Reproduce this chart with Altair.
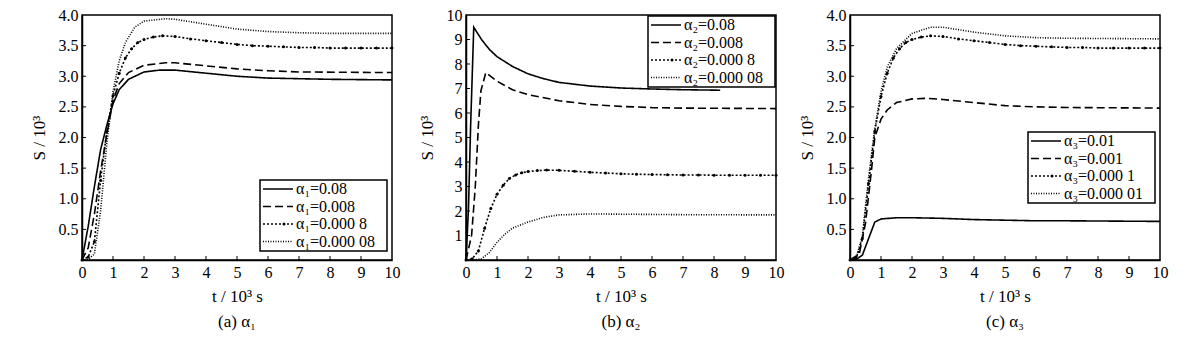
import altair as alt
import pandas as pd

# ---------------- data ----------------
X_TICKS = [0, 1, 2, 3, 4, 5, 6, 7, 8, 9, 10]
Y_TICKS_4 = [0.5, 1.0, 1.5, 2.0, 2.5, 3.0, 3.5, 4.0]
Y_TICKS_10 = [1, 2, 3, 4, 5, 6, 7, 8, 9, 10]

# panel (a) alpha_1
A_LABELS = ["α₁=0.08", "α₁=0.008", "α₁=0.000 8", "α₁=0.000 08"]
a1_t = [0, 0.2, 0.4, 0.6, 0.8, 1.0, 1.2, 1.5, 2.0, 2.5, 3.0, 4.0, 5.0, 6.0, 7.0, 8.0, 10.0]
a1_s = [0, 0.55, 1.2, 1.8, 2.2, 2.55, 2.78, 2.95, 3.07, 3.1, 3.1, 3.05, 3.0, 2.97, 2.96, 2.95, 2.94]
a2_t = [0, 0.2, 0.4, 0.6, 0.8, 1.0, 1.2, 1.5, 2.0, 2.7, 3.0, 4.0, 5.0, 6.0, 7.0, 10.0]
a2_s = [0, 0.2, 0.75, 1.45, 2.05, 2.6, 2.88, 3.06, 3.18, 3.22, 3.22, 3.17, 3.12, 3.09, 3.07, 3.06]
a3_t = [0, 0.2, 0.4, 0.6, 0.8, 1.0, 1.2, 1.4, 1.6, 1.8, 2.0, 2.3, 2.6, 3.0, 3.5, 4.0, 4.5, 5.0,
        5.5, 6.0, 6.5, 7.0, 7.5, 8.0, 8.5, 9.0, 9.5, 10.0]
a3_s = [0, 0.05, 0.3, 1.3, 2.1, 2.68, 3.05, 3.3, 3.45, 3.55, 3.6, 3.64, 3.66, 3.65, 3.61, 3.58, 3.55, 3.52,
        3.5, 3.49, 3.48, 3.47, 3.47, 3.46, 3.46, 3.46, 3.46, 3.46]
a4_t = [0, 0.2, 0.4, 0.6, 0.8, 1.0, 1.2, 1.4, 1.7, 2.0, 2.7, 3.0, 4.0, 5.0, 6.0, 7.0, 8.0, 10.0]
a4_s = [0, 0.01, 0.1, 0.8, 1.9, 2.75, 3.25, 3.55, 3.8, 3.9, 3.94, 3.93, 3.85, 3.77, 3.73, 3.71, 3.7, 3.7]

# panel (b) alpha_2
B_LABELS = ["α₂=0.08", "α₂=0.008", "α₂=0.000 8", "α₂=0.000 08"]
b1_t = [0, 0.08, 0.15, 0.25, 0.5, 0.75, 1.0, 1.5, 2.0, 2.5, 3.0, 4.0, 5.0, 6.0, 7.0, 8.2]
b1_s = [0, 2.1, 5.5, 9.5, 9.0, 8.6, 8.3, 7.9, 7.6, 7.4, 7.25, 7.1, 7.02, 6.98, 6.95, 6.93]
b2_t = [0, 0.18, 0.3, 0.4, 0.48, 0.64, 1.0, 1.5, 2.0, 3.0, 4.0, 5.0, 6.0, 7.0, 10.0]
b2_s = [0, 1.0, 3.0, 5.5, 6.9, 7.65, 7.3, 6.95, 6.75, 6.5, 6.35, 6.27, 6.22, 6.2, 6.18]
b3_t = [0, 0.2, 0.4, 0.6, 0.8, 1.0, 1.2, 1.4, 1.6, 1.8, 2.0, 2.3, 2.6, 3.0, 3.5, 4.0, 4.5, 5.0,
        5.5, 6.0, 6.5, 7.0, 7.5, 8.0, 8.5, 9.0, 9.5, 10.0]
b3_s = [0, 0.05, 0.37, 1.3, 2.1, 2.68, 3.05, 3.33, 3.47, 3.56, 3.61, 3.65, 3.67, 3.66, 3.62, 3.58, 3.55, 3.52,
        3.5, 3.49, 3.48, 3.47, 3.47, 3.46, 3.46, 3.46, 3.46, 3.46]
b4_t = [0, 0.25, 0.5, 0.75, 1.0, 1.25, 1.5, 2.0, 2.5, 3.0, 4.0, 5.0, 6.0, 7.0, 10.0]
b4_s = [0, 0, 0.05, 0.3, 0.72, 1.05, 1.3, 1.55, 1.74, 1.84, 1.88, 1.87, 1.86, 1.85, 1.84]

# panel (c) alpha_3
C_LABELS = ["α₃=0.01", "α₃=0.001", "α₃=0.000 1", "α₃=0.000 01"]
c1_t = [0, 0.2, 0.4, 0.6, 0.8, 1.0, 1.5, 2.0, 3.0, 4.0, 5.0, 6.0, 7.0, 10.0]
c1_s = [0, 0.01, 0.08, 0.35, 0.62, 0.67, 0.69, 0.69, 0.68, 0.66, 0.65, 0.64, 0.64, 0.63]
c2_t = [0, 0.3, 0.5, 0.7, 0.8, 1.0, 1.2, 1.5, 2.0, 2.5, 3.0, 4.0, 5.0, 6.0, 7.0, 10.0]
c2_s = [0, 0.1, 0.6, 1.5, 2.0, 2.3, 2.45, 2.57, 2.63, 2.64, 2.62, 2.57, 2.52, 2.5, 2.49, 2.48]
c3_t = [0, 0.2, 0.4, 0.6, 0.8, 1.0, 1.2, 1.4, 1.6, 1.8, 2.0, 2.3, 2.6, 3.0, 3.5, 4.0, 4.5, 5.0,
        5.5, 6.0, 6.5, 7.0, 7.5, 8.0, 8.5, 9.0, 9.5, 10.0]
c3_s = [0, 0.03, 0.35, 1.25, 2.1, 2.67, 3.05, 3.3, 3.45, 3.55, 3.6, 3.64, 3.66, 3.65, 3.61, 3.58, 3.55, 3.52,
        3.5, 3.49, 3.48, 3.47, 3.47, 3.46, 3.46, 3.46, 3.46, 3.46]
c4_t = [0, 0.2, 0.4, 0.6, 0.8, 1.0, 1.2, 1.5, 2.0, 2.6, 3.0, 4.0, 5.0, 6.0, 7.0, 10.0]
c4_s = [0, 0.03, 0.4, 1.35, 2.15, 2.75, 3.15, 3.45, 3.7, 3.8, 3.8, 3.72, 3.66, 3.63, 3.62, 3.61]

CAPTIONS = ["(a) α₁", "(b) α₂", "(c) α₃"]

# ---------------- styling ----------------
FONT = "Liberation Serif"
DASHES = [[1, 0], [8, 4], [2, 2], [1, 1.5]]
WIDTHS = [1.6, 1.6, 1.3, 1.0]
PW, PH = 310, 245
LEG_W, LEG_H, ROW_H = 127, 71, 17.5


def legend_layers(labels, lx, ly):
    layers = [
        alt.Chart(pd.DataFrame({"series": [labels[0]]})).mark_rect(
            fill="white", stroke="black", strokeWidth=1.5).encode(
            x=alt.value(lx), x2=alt.value(lx + LEG_W),
            y=alt.value(ly), y2=alt.value(ly + LEG_H))
    ]
    for i, lab in enumerate(labels):
        yc = ly + 9 + ROW_H * i
        src = pd.DataFrame({"series": [lab]})
        layers.append(alt.Chart(src).mark_rule(
            color="black", strokeWidth=WIDTHS[i] if i < 2 else 1.3, strokeDash=DASHES[i]).encode(
            x=alt.value(lx + 3), x2=alt.value(lx + 33), y=alt.value(yc)))
        if i == 2:
            layers.append(alt.Chart(src).mark_circle(color="black", size=9, opacity=1).encode(
                x=alt.value(lx + 24), y=alt.value(yc)))
        layers.append(alt.Chart(src).mark_text(
            align="left", baseline="middle", font=FONT, fontSize=16, color="black").encode(
            text="series:N", x=alt.value(lx + 36), y=alt.value(yc)))
    return layers


def make_panel(ts, ss, labels, y_max, y_vals, y_fmt, caption, lx, ly):
    rows = []
    for lab, tt, sv in zip(labels, ts, ss):
        for t, s in zip(tt, sv):
            rows.append({"t": t, "s": s, "series": lab})
    df = pd.DataFrame(rows)

    ax_common = dict(grid=False, ticks=False, labelFlush=False, labelOverlap=False,
                     domainColor="black", domainWidth=1.5, labelFont=FONT, labelFontSize=16,
                     labelColor="black", titleFont=FONT, titleFontSize=17,
                     titleFontWeight="normal", titleColor="black", labelPadding=4)
    x_enc = alt.X("t:Q", scale=alt.Scale(domain=[0, 10], nice=False, zero=True),
                  axis=alt.Axis(values=X_TICKS, title="t / 10³ s", format="d",
                                titlePadding=8, **ax_common))
    y_enc = alt.Y("s:Q", scale=alt.Scale(domain=[0, y_max], nice=False, zero=True),
                  axis=alt.Axis(values=y_vals, title="S / 10³", format=y_fmt,
                                titlePadding=10, **ax_common))

    lines = alt.Chart(df).mark_line(color="black").encode(
        x=x_enc, y=y_enc,
        strokeDash=alt.StrokeDash("series:N", scale=alt.Scale(domain=labels, range=DASHES),
                                  legend=None),
        strokeWidth=alt.StrokeWidth("series:N", scale=alt.Scale(domain=labels, range=WIDTHS),
                                    legend=None),
    )
    dots = alt.Chart(df).transform_filter(
        alt.datum.series == labels[2]
    ).mark_circle(color="black", size=9, opacity=1).encode(x=x_enc, y=y_enc)

    xt = alt.Chart(pd.DataFrame({"t": X_TICKS[1:-1]})).mark_rule(
        color="black", strokeWidth=1).encode(x=x_enc, y=alt.value(PH), y2=alt.value(PH - 4))
    yt = alt.Chart(pd.DataFrame({"s": y_vals[:-1]})).mark_rule(
        color="black", strokeWidth=1).encode(y=y_enc, x=alt.value(0), x2=alt.value(4))

    return alt.layer(lines, dots, xt, yt, *legend_layers(labels, lx, ly)).properties(
        width=PW, height=PH,
        title=alt.TitleParams(caption, orient="bottom", anchor="middle", frame="group",
                              font=FONT, fontSize=17, fontWeight="normal",
                              color="black", offset=10),
    )


pa = make_panel([a1_t, a2_t, a3_t, a4_t], [a1_s, a2_s, a3_s, a4_s], A_LABELS,
                4, Y_TICKS_4, ".1f", CAPTIONS[0], 178, 165)
pb = make_panel([b1_t, b2_t, b3_t, b4_t], [b1_s, b2_s, b3_s, b4_s], B_LABELS,
                10, Y_TICKS_10, "d", CAPTIONS[1], 182, 1)
pc = make_panel([c1_t, c2_t, c3_t, c4_t], [c1_s, c2_s, c3_s, c4_s], C_LABELS,
                4, Y_TICKS_4, ".1f", CAPTIONS[2], 178, 117)

chart = alt.hconcat(pa, pb, pc, spacing=74, bounds="flush").resolve_scale(
    x="independent", y="independent", strokeDash="independent", strokeWidth="independent"
).properties(
    background="white", padding={"left": 21, "top": -2, "right": 5, "bottom": 0}
).configure(
    font=FONT
).configure_axis(
    labelFont=FONT, titleFont=FONT, labelFontSize=16, titleFontSize=17,
    titleFontWeight="normal", labelColor="black", titleColor="black"
).configure_title(
    font=FONT
).configure_text(
    font=FONT
).configure_view(
    stroke="black", strokeWidth=1.5
)

chart.save("out.html", embed_options={"renderer": "svg", "actions": False})
